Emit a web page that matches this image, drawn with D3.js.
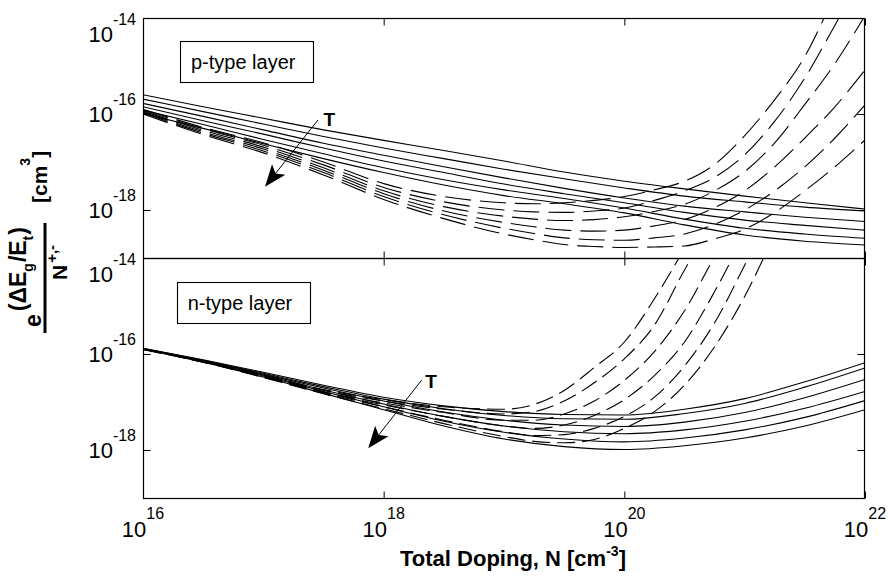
<!DOCTYPE html>
<html>
<head>
<meta charset="utf-8">
<script src="https://cdn.jsdelivr.net/npm/d3@7"></script>
<style>
  body { margin: 0; background: #fff; }
  svg { display: block; }
  text { font-family: "Liberation Sans", Arial, Helvetica, sans-serif; fill: #000; }
</style>
</head>
<body>
<svg id="chart" width="888" height="581"></svg>
<script>
// ---- data: log10 of doping N and log10 of e^(dEg/Et)/N [cm^3] ----
const logNSolid  = [16, 16.5, 17, 17.5, 18, 18.5, 19, 19.5, 20, 20.5, 21, 21.5, 22];
const logNDashed = [16, 16.5, 17, 17.5, 18, 18.5, 19, 19.25, 19.5, 19.75, 20, 20.25, 20.5, 20.75, 21, 21.25, 21.5, 21.75, 22];

// p-type layer, solid curves (one per temperature)
const pSolid1 = [-15.60,-15.85,-16.09,-16.33,-16.55,-16.76,-16.98,-17.21,-17.40,-17.56,-17.71,-17.85,-17.98];
const pSolid2 = [-15.69,-15.95,-16.21,-16.47,-16.71,-16.93,-17.15,-17.35,-17.54,-17.71,-17.83,-17.94,-18.02];
const pSolid3 = [-15.78,-16.05,-16.33,-16.61,-16.86,-17.10,-17.33,-17.55,-17.75,-17.92,-18.04,-18.15,-18.24];
const pSolid4 = [-15.85,-16.14,-16.42,-16.71,-16.98,-17.22,-17.46,-17.66,-17.85,-18.05,-18.21,-18.32,-18.42];
const pSolid5 = [-15.92,-16.22,-16.53,-16.83,-17.12,-17.37,-17.58,-17.76,-17.96,-18.19,-18.38,-18.50,-18.59];
const pSolid6 = [-15.99,-16.30,-16.62,-16.93,-17.22,-17.48,-17.70,-17.87,-18.06,-18.31,-18.52,-18.65,-18.73];

// p-type layer, dashed curves
const pDash1 = [-15.90,-16.28,-16.60,-17.00,-17.45,-17.72,-17.85,-17.87,-17.85,-17.80,-17.72,-17.58,-17.40,-17.05,-16.45,-15.70,-14.80,-13.50,null];
const pDash2 = [-15.92,-16.31,-16.65,-17.06,-17.53,-17.83,-18.00,-18.04,-18.05,-18.02,-17.96,-17.80,-17.60,-17.32,-16.85,-16.15,-15.25,-14.15,-13.00];
const pDash3 = [-15.94,-16.34,-16.69,-17.12,-17.60,-17.93,-18.13,-18.19,-18.22,-18.20,-18.14,-18.03,-17.88,-17.60,-17.20,-16.60,-15.80,-14.95,-13.95];
const pDash4 = [-15.96,-16.37,-16.73,-17.17,-17.66,-18.02,-18.26,-18.35,-18.42,-18.44,-18.42,-18.33,-18.20,-17.95,-17.60,-17.10,-16.50,-15.85,-15.08];
const pDash5 = [-15.98,-16.40,-16.77,-17.22,-17.72,-18.10,-18.38,-18.49,-18.58,-18.62,-18.63,-18.58,-18.50,-18.30,-18.00,-17.60,-17.10,-16.50,-15.81];
const pDash6 = [-16.00,-16.43,-16.81,-17.27,-17.78,-18.18,-18.50,-18.62,-18.72,-18.76,-18.78,-18.77,-18.75,-18.60,-18.40,-18.05,-17.60,-17.10,-16.54];

// n-type layer, solid curves
const nSolid1 = [-15.88,-16.12,-16.38,-16.65,-16.90,-17.08,-17.20,-17.26,-17.27,-17.15,-16.93,-16.58,-16.18];
const nSolid2 = [-15.88,-16.13,-16.40,-16.68,-16.94,-17.14,-17.28,-17.35,-17.36,-17.24,-17.03,-16.69,-16.29];
const nSolid3 = [-15.89,-16.14,-16.42,-16.71,-16.98,-17.21,-17.38,-17.48,-17.51,-17.42,-17.22,-16.91,-16.53];
const nSolid4 = [-15.89,-16.15,-16.44,-16.75,-17.04,-17.30,-17.50,-17.62,-17.66,-17.58,-17.40,-17.13,-16.78];
const nSolid5 = [-15.90,-16.16,-16.46,-16.78,-17.10,-17.40,-17.63,-17.77,-17.83,-17.75,-17.58,-17.32,-16.97];
const nSolid6 = [-15.90,-16.17,-16.48,-16.82,-17.16,-17.50,-17.77,-17.93,-17.99,-17.91,-17.75,-17.50,-17.16];

// n-type layer, dashed curves
const nDash1 = [-15.89,-16.15,-16.44,-16.74,-16.95,-17.10,-17.15,-17.05,-16.76,-16.28,-15.75,-14.85,-13.80,null,null,null,null,null,null];
const nDash2 = [-15.89,-16.15,-16.45,-16.76,-16.98,-17.15,-17.25,-17.20,-16.98,-16.60,-16.10,-15.40,-14.25,-13.20,null,null,null,null,null];
const nDash3 = [-15.90,-16.16,-16.47,-16.79,-17.02,-17.22,-17.38,-17.38,-17.25,-16.98,-16.55,-15.95,-15.10,-13.97,-12.90,null,null,null,null];
const nDash4 = [-15.90,-16.16,-16.47,-16.80,-17.06,-17.30,-17.50,-17.55,-17.48,-17.28,-16.95,-16.45,-15.75,-14.70,-13.50,null,null,null,null];
const nDash5 = [-15.90,-16.17,-16.48,-16.81,-17.10,-17.38,-17.62,-17.70,-17.68,-17.55,-17.30,-16.90,-16.25,-15.35,-14.15,-12.90,null,null,null];
const nDash6 = [-15.91,-16.17,-16.49,-16.83,-17.14,-17.45,-17.72,-17.82,-17.85,-17.78,-17.55,-17.20,-16.65,-15.85,-14.80,-13.50,null,null,null];

// axis ticks (exponents)
const xTickExp = [16, 18, 20, 22];
const yTickExp = [-14, -16, -18];

// ---- layout ----
const svg = d3.select("#chart");
const plotLeft = 143, plotRight = 865;
const x = d3.scaleLog().domain([1e16, 1e22]).range([plotLeft, plotRight]);

const panels = [
  { id: "p", top: 18, bottom: 258, label: "p-type layer", dash: "26,9",
    solid: [pSolid1, pSolid2, pSolid3, pSolid4, pSolid5, pSolid6],
    dashed: [pDash1, pDash2, pDash3, pDash4, pDash5, pDash6],
    box: [16.307, -14.48],   // upper-left corner of legend box (log10 units)
    arrow: { from: [17.454, -16.125], to: [17.014, -17.515], label: [17.50, -16.25] } },
  { id: "n", top: 258, bottom: 498, label: "n-type layer", dash: "18,7",
    solid: [nSolid1, nSolid2, nSolid3, nSolid4, nSolid5, nSolid6],
    dashed: [nDash1, nDash2, nDash3, nDash4, nDash5, nDash6],
    box: [16.28, -14.5],
    arrow: { from: [18.316, -16.542], to: [17.872, -17.965], label: [18.345, -16.70] } }
];

const defs = svg.append("defs");

panels.forEach(p => {
  const y = d3.scaleLog().domain([1e-19, 1e-14]).range([p.bottom, p.top]);
  const px = e => x(Math.pow(10, e));
  const py = e => y(Math.pow(10, e));
  const g = svg.append("g");

  defs.append("clipPath").attr("id", "clip-" + p.id)
    .append("rect")
    .attr("x", plotLeft).attr("y", p.top)
    .attr("width", plotRight - plotLeft).attr("height", p.bottom - p.top);

  const curves = g.append("g").attr("clip-path", `url(#clip-${p.id})`);

  const line = d3.line()
    .defined(d => d[1] != null)
    .x(d => px(d[0]))
    .y(d => py(d[1]))
    .curve(d3.curveMonotoneX);

  p.dashed.forEach(vals => {
    curves.append("path")
      .datum(logNDashed.map((e, i) => [e, vals[i]]))
      .attr("d", line)
      .attr("fill", "none")
      .attr("stroke", "#000")
      .attr("stroke-width", 1.1)
      .attr("stroke-dasharray", p.dash);
  });
  p.solid.forEach(vals => {
    curves.append("path")
      .datum(logNSolid.map((e, i) => [e, vals[i]]))
      .attr("d", line)
      .attr("fill", "none")
      .attr("stroke", "#000")
      .attr("stroke-width", 1.1);
  });

  // frame
  g.append("rect")
    .attr("x", plotLeft + 0.5).attr("y", p.top + 0.5)
    .attr("width", plotRight - plotLeft - 1).attr("height", p.bottom - p.top)
    .attr("fill", "none").attr("stroke", "#000").attr("stroke-width", 1.2);

  // ticks pointing inward on all four sides
  const yt = yTickExp.map(e => Math.pow(10, e));
  const xt = xTickExp.map(e => Math.pow(10, e));
  const styleAxis = sel => { sel.select(".domain").remove(); sel.selectAll("line").attr("stroke", "#000"); };
  g.append("g").attr("transform", `translate(${plotLeft + 0.5},0)`)
    .call(d3.axisLeft(y).tickValues(yt).tickSize(-7).tickFormat("")).call(styleAxis);
  g.append("g").attr("transform", `translate(${plotRight - 0.5},0)`)
    .call(d3.axisRight(y).tickValues(yt).tickSize(-7).tickFormat("")).call(styleAxis);
  g.append("g").attr("transform", `translate(0,${p.top + 0.5})`)
    .call(d3.axisTop(x).tickValues(xt).tickSize(-7).tickFormat("")).call(styleAxis);
  g.append("g").attr("transform", `translate(0,${p.bottom + 0.5})`)
    .call(d3.axisBottom(x).tickValues(xt).tickSize(-7).tickFormat("")).call(styleAxis);

  // y tick labels (10^n)
  yTickExp.forEach(e => {
    const ty = py(e);
    const base = e === -14 ? ty + 24 : ty + 8;
    const t = g.append("text").attr("x", 136).attr("y", base)
      .attr("text-anchor", "end").style("font-size", "22px");
    t.append("tspan").text("10");
    t.append("tspan").attr("dy", -17).style("font-size", "16px").text(String(e));
  });

  // legend box
  const bx = px(p.box[0]), by = py(p.box[1]);
  g.append("rect").attr("x", Math.round(bx) + 0.5).attr("y", Math.round(by) + 0.5)
    .attr("width", 133).attr("height", 41)
    .attr("fill", "#fff").attr("stroke", "#000").attr("stroke-width", 1.1);
  g.append("text").attr("x", bx + 11).attr("y", by + 28)
    .style("font-size", "20px").text(p.label);

  // temperature arrow
  const ax0 = px(p.arrow.from[0]), ay0 = py(p.arrow.from[1]);
  const ax1 = px(p.arrow.to[0]), ay1 = py(p.arrow.to[1]);
  const ang = Math.atan2(ay1 - ay0, ax1 - ax0);
  const hl = 22, hw = 8.5, notch = 5;
  const ux = Math.cos(ang), uy = Math.sin(ang), vx = -uy, vy = ux;
  const bxp = ax1 - ux * hl, byp = ay1 - uy * hl;
  g.append("line").attr("x1", ax0).attr("y1", ay0)
    .attr("x2", ax1 - ux * 10).attr("y2", ay1 - uy * 10)
    .attr("stroke", "#000").attr("stroke-width", 1);
  g.append("path")
    .attr("d", `M${ax1},${ay1} L${bxp + vx * hw},${byp + vy * hw} L${ax1 - ux * (hl - notch)},${ay1 - uy * (hl - notch)} L${bxp - vx * hw},${byp - vy * hw} Z`)
    .attr("fill", "#000");
  g.append("text")
    .attr("x", px(p.arrow.label[0]))
    .attr("y", py(p.arrow.label[1]))
    .style("font-size", "19px").style("font-weight", "bold").text("T");
});

// x tick labels under the lower panel
xTickExp.forEach(e => {
  const t = svg.append("text").attr("x", x(Math.pow(10, e))).attr("y", 537)
    .attr("text-anchor", "middle").style("font-size", "22px");
  t.append("tspan").text("10");
  t.append("tspan").attr("dy", -18).style("font-size", "16px").text(String(e));
});

// x axis title
const xTitle = svg.append("text").attr("x", 513).attr("y", 566)
  .attr("text-anchor", "middle").style("font-size", "22px").style("font-weight", "bold");
xTitle.append("tspan").text("Total Doping, N [cm");
xTitle.append("tspan").attr("dy", -10).style("font-size", "14px").text("-3");
xTitle.append("tspan").attr("dy", 10).text("]");

// y axis title: e^(dEg/Et) / N^{+,-}  [cm^3], rotated
const yl = svg.append("g").attr("transform", "translate(45,278) rotate(-90)")
  .style("font-weight", "bold");
yl.append("line").attr("x1", -55).attr("x2", 55).attr("y1", 0).attr("y2", 0)
  .attr("stroke", "#000").attr("stroke-width", 3);
const num = yl.append("text").attr("x", -49).attr("y", -4).style("font-size", "23px");
num.append("tspan").text("e");
num.append("tspan").attr("dy", -15).attr("dx", 3).text("(\u0394E");
num.append("tspan").attr("dy", 7).style("font-size", "14px").text("g");
num.append("tspan").attr("dy", -7).attr("dx", 1).text("/E");
num.append("tspan").attr("dy", 7).style("font-size", "14px").text("t");
num.append("tspan").attr("dy", -7).attr("dx", 1).text(")");
const den = yl.append("text").attr("x", -2).attr("y", 22).style("font-size", "21px");
den.append("tspan").text("N");
den.append("tspan").attr("dy", -10).attr("dx", 2).style("font-size", "15px").text("+,-");
const unit = yl.append("text").attr("x", 75).attr("y", 2).style("font-size", "21px");
unit.append("tspan").text("[cm");
unit.append("tspan").attr("dy", -17).style("font-size", "14px").text("3");
unit.append("tspan").attr("dy", 17).text("]");
</script>
</body>
</html>
